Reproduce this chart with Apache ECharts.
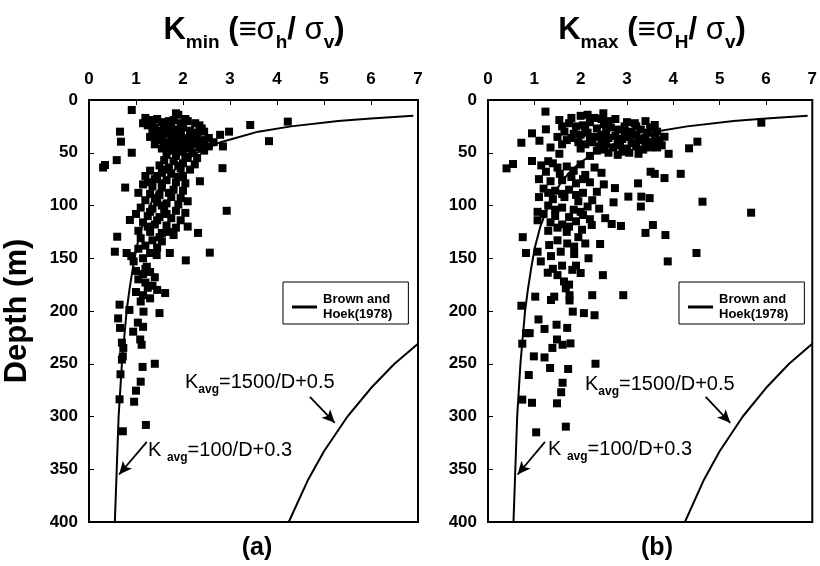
<!DOCTYPE html>
<html><head><meta charset="utf-8">
<script src="https://cdn.jsdelivr.net/npm/echarts@6/dist/echarts.min.js"></script>
<style>html,body{margin:0;padding:0;background:#fff}#c{width:820px;height:566px}</style>
</head><body><div id="c"></div>
<script>
const FONT = "'Liberation Sans', Arial, sans-serif";
const xRange = [0, 7];
const yRange = [0, 400];
const seriesName = 'Brown and Hoek(1978)';

// [K, depth]
const kminPoints = [
[0.91,9.5],[1.85,12.6],[1.9,14],[1.2,17],[1.3,19],[1.45,18],[1.55,21],[1.7,20],[1.95,22],[2.1,20],[2.26,22],[2.35,24],[1.25,24],[1.4,26],[1.6,27],[1.75,25],[1.85,28],[2.0,26],[2.15,29],[2.3,31],[2.45,30],[1.35,31],[1.5,33],[1.65,32],[1.8,34],[1.95,33],[2.1,36],[2.25,35],[2.4,38],[2.55,36],[1.45,38],[1.6,40],[1.75,39],[1.9,41],[2.05,43],[2.2,42],[2.35,45],[2.55,44],[2.65,40],[1.55,46],[1.7,48],[1.85,47],[2.0,49],[2.2,50],[2.45,48],
[1.15,22],[1.35,21],[1.6,23],[1.8,19],[2.05,18],[1.5,29],[1.7,30],[1.95,30],[2.2,33],[2.4,27],[1.3,35],[1.55,36],[1.85,37],[2.0,38],[2.3,40],[1.4,42],[1.65,44],[1.95,45],[2.15,46],[2.45,41],[1.8,44],
[0.66,30],[0.68,39.5],[0.91,50],[0.34,61.6],[0.59,57],[0.3,64],[3.43,23.7],[2.98,30],[2.79,33],[3.83,39],[2.85,44],[4.23,20.5],[2.84,64.6],[2.36,77],[2.93,105],[2.32,126],[0.87,113.7],[0.6,129.6],[0.77,83],
[1.65,52],[1.85,53],[2.05,54],[2.3,55],[1.6,57],[1.8,58],[2.0,60],[2.25,61],[1.5,62],[1.7,64],[1.95,65],[2.15,66],[1.3,67],[1.55,69],[1.75,70],[2.0,72],[1.2,72],[1.4,75],[1.65,76],[1.85,78],[2.05,79],[1.15,80],[1.35,82],[1.55,83],[1.8,85],[2.0,86],[1.05,88],[1.3,89],[1.5,90],[1.75,92],[1.95,93],[1.2,95],[1.45,97],[1.65,98],[1.9,99],[2.1,96],
[2.1,55],[1.9,62],[1.6,66],[1.45,72],[1.9,73],[1.25,78],[1.55,79],[1.7,88],[1.4,93],
[1.1,102],[1.35,103],[1.6,104],[1.85,105],[2.05,107],[1.0,108],[1.25,110],[1.5,111],[1.75,112],[1.95,114],[1.15,116],[1.4,118],[1.65,119],[1.85,121],[2.1,120],[1.05,124],[1.3,125],[1.55,126],[1.68,125],[1.8,128],[1.1,131],[1.35,133],[1.55,134],[1.2,138],[1.45,140],[1.05,141],
[1.55,100],[1.3,106],[1.65,108],[1.45,114],[1.25,120],[1.5,130],
[0.55,143.8],[0.8,145],[0.9,148],[0.95,153],[1.72,145],[2.57,144.7],[2.06,152],[1.44,147],[1.23,158],[1.0,162],[1.15,165],[1.3,163],[1.4,168],[1.05,170],[1.2,173],[1.35,176],[1.45,180],[1.0,182],[1.15,185],[1.3,188],[1.1,191],[1.62,183],[0.65,194],[0.86,199],[1.16,200.6],[1.5,202],[0.62,207],[0.66,216],[1.04,211],[1.15,215],[0.94,219.6],[1.09,227],[1.12,232],[0.7,230],[0.73,235],[0.72,243],[1.14,253],[1.4,250],[0.67,260],[0.7,246],[1.1,267],[1.0,275.5],[0.65,283.7],[0.96,286],[1.21,308],[0.72,314],
[1.3,145],[1.15,150],[1.25,178],[1.2,160]
];

const kmaxPoints = [
[1.24,11],[1.54,19],[2.49,12.6],[1.25,27.8],[0.95,31.6],[0.72,40.5],[1.11,38.6],[0.4,64.8],[0.54,60.7],[0.95,57.8],[1.54,51],[3.17,22],[3.6,23.7],[3.81,34.8],[5.9,21.5],[4.52,39.5],[4.34,45.8],[3.9,51],
[1.75,22],[1.9,25],[2.05,24],[2.2,21],[2.35,27],[2.5,23],[2.65,26],[2.8,28],[2.95,25],[3.1,30],[3.3,28],[3.45,31],[3.65,30],[1.65,30],[1.85,32],[2.0,33],[2.15,31],[2.3,35],[2.45,33],[2.6,36],[2.75,34],[2.9,37],[3.05,35],[3.25,38],[3.4,36],[3.55,40],[3.7,38],[1.7,38],[1.95,40],[2.1,42],[2.25,40],[2.4,44],[2.55,42],[2.7,45],[2.85,43],[3.0,46],[3.2,44],[3.35,47],[3.5,45],[3.75,43],[2.35,48],[2.6,50],[2.8,52],[2.2,53],[3.05,50],[1.35,45],[1.6,42],[2.0,15],[2.3,17],[2.75,18],[3.4,20],
[1.8,17],[2.15,14],[2.45,18],[2.6,20],[3.0,21],[3.2,25],[3.5,26],[1.6,25],[2.1,28],[2.55,29],[2.95,31],[3.2,33],[3.6,35],[1.8,36],[2.2,37],[2.45,39],[2.8,40],[3.1,41],[3.4,42],[3.65,45],[2.0,46],[2.5,47],[2.9,49],[3.25,51],[1.5,35],
[1.15,62],[1.4,60],[1.7,63],[2.0,61],[2.3,64],[1.25,68],[1.55,70],[1.85,67],[2.1,71],[2.45,69],[1.1,75],[1.35,77],[1.6,76],[1.9,79],[2.2,78],[2.5,80],[1.2,84],[1.45,86],[1.75,85],[2.05,88],[2.35,87],[1.1,92],[1.4,94],[1.65,92],[1.95,96],[2.25,95],[1.3,100],[1.6,102],[1.85,104],[2.15,101],[2.4,103],[1.2,108],[1.45,110],[1.75,111],[2.05,109],[1.35,116],[1.6,118],[1.9,115],[2.2,113],
[1.3,58],[1.5,64],[1.8,73],[2.05,75],[1.3,88],[1.6,89],[1.9,90],[1.45,104],[2.0,106],[1.7,125],[1.3,124],[1.95,130],[1.5,133],
[1.07,106],[1.07,114],[1.5,121],[1.75,120],[2.03,123],[2.24,118.5],[0.75,130],[2.87,119.4],[2.67,117.5],[2.53,112],[2.42,136.5],[1.32,137.5],[3.51,68],[3.81,74],[3.24,79],[2.74,83.5],[3.03,91.6],[3.31,91.6],[3.49,93],[2.71,97],[3.3,101],[3.4,126],[3.83,128],[3.6,70],[4.16,70],[4.63,96.4],[5.68,106.8],[3.56,118.5],[4.5,145],[3.88,153],
[2.1,136],[1.71,136],[1.86,139],[0.82,145],[1.07,143.8],[1.36,148],[1.57,143.8],[1.86,146],[2.17,150],[1.14,153],[1.29,163.7],[1.5,166],[1.64,172],[1.75,175],[1.68,178.5],[1.82,161],[2.0,164],[2.48,166],[2.92,185],[1.02,186.4],[1.36,189.6],[1.43,186.4],[1.76,185],[1.76,190],[2.25,185],[0.72,195],[1.83,200.6],[2.07,202],[2.3,204],[1.09,208],[1.22,217],[1.48,213],[1.71,216],[0.9,221],[0.82,221],[1.49,227],[1.61,232],[1.78,230.7],[1.39,235],[0.74,231],[0.99,243],[1.22,244],[1.34,254],[1.73,255],[2.32,250],[0.88,260.7],[1.61,268],[1.58,277],[0.74,284],[0.95,287],[1.49,287.5],[1.04,315],[1.68,309.6],[1.6,157],[1.9,157],[1.4,160]
];

// Brown & Hoek envelopes: [K, depth]
const innerCurve = [[6.9,15],[6.0,17.5],[5.3,20],[4.3,25],[3.6,30],[2.8,40],[2.3,50],[1.97,60],[1.73,70],[1.55,80],[1.41,90],[1.3,100],[1.13,120],[1.01,140],[0.93,160],[0.86,180],[0.8,200],[0.7,250],[0.63,300],[0.59,350],[0.55,400]];
const outerCurve = [[7.0,231],[6.5,250],[6.0,273],[5.5,300],[5.0,333],[4.65,361],[4.25,400]];

// annotation arrows [from, to] in [K, depth]
const arrowOuter = [[4.70,281.5],[5.23,306]];
const arrowInner = [[1.23,324],[0.64,355]];

const chart = echarts.init(document.getElementById('c'), null, {renderer:'canvas'});

const grids = [
  {left:89, top:100, width:329, height:422},
  {left:488, top:100, width:328, height:422}
];

function xAxis(i){
  return {gridIndex:i, type:'value', position:'top', min:xRange[0], max:xRange[1], interval:1,
    axisLine:{show:true, onZero:false, lineStyle:{color:'#000', width:2}},
    axisTick:{show:true, inside:true, length:5, lineStyle:{color:'#000', width:1}},
    axisLabel:{color:'#000', fontWeight:'bold', fontSize:17, fontFamily:FONT, margin:12},
    splitLine:{show:false}};
}
function yAxis(i){
  const a = {gridIndex:i, type:'value', inverse:true, min:yRange[0], max:yRange[1], interval:50,
    axisLine:{show:true, onZero:false, lineStyle:{color:'#000', width:2}},
    axisTick:{show:true, inside:true, length:5, lineStyle:{color:'#000', width:1}},
    axisLabel:{color:'#000', fontWeight:'bold', fontSize:17, fontFamily:FONT, margin:11},
    splitLine:{show:false}};
  if(i===0){
    a.name = 'Depth (m)'; a.nameLocation='middle'; a.nameRotate=90; a.nameGap=56;
    a.nameTextStyle = {color:'#000', fontWeight:'bold', fontSize:31, fontFamily:FONT};
  }
  return a;
}

function arrowMark(){
  return {silent:true, symbol:['none','arrow'], symbolSize:[9,13], label:{show:false},
    lineStyle:{color:'#000', width:1.8, type:'solid'}, animation:false,
    data:[
      [{coord:arrowOuter[0]},{coord:arrowOuter[1]}],
      [{coord:arrowInner[0]},{coord:arrowInner[1]}]
    ]};
}

const series = [];
[kminPoints, kmaxPoints].forEach((pts,i)=>{
  series.push({type:'scatter', xAxisIndex:i, yAxisIndex:i, data:pts, symbol:'rect', symbolSize:8,
    itemStyle:{color:'#000', opacity:1}, z:3, silent:true});
  series.push({type:'line', name:seriesName, xAxisIndex:i, yAxisIndex:i, data:innerCurve, showSymbol:false,
    lineStyle:{color:'#000', width:2}, itemStyle:{color:'#000'}, markLine:arrowMark(), z:4});
  series.push({type:'line', name:seriesName, xAxisIndex:i, yAxisIndex:i, data:outerCurve, showSymbol:false,
    lineStyle:{color:'#000', width:2}, itemStyle:{color:'#000'}, z:4});
});

function legend(left){
  return {left:left, top:282, orient:'vertical', data:[seriesName], icon:'rect', itemWidth:25, itemHeight:3, itemGap:0,
    formatter:()=> 'Brown and\nHoek(1978)', borderColor:'#000', borderWidth:1, padding:[10,16,2,9], selectedMode:false,
    textStyle:{color:'#000', fontWeight:'bold', fontSize:13, lineHeight:15, fontFamily:FONT, padding:[0,0,0,1]}};
}

function titleText(x, sub, sub2){
  return {type:'text', x:x, y:15, style:{
    text:'{k|K}{s|'+sub+'}{p| (≡}{g|σ}{s|'+sub2+'}{p|/ }{g|σ}{s|v}{p|)}',
    align:'center', verticalAlign:'top',
    rich:{
      k:{fontSize:31, fontWeight:'bold', fontFamily:FONT, fill:'#000', lineHeight:34, verticalAlign:'top'},
      p:{fontSize:31, fontWeight:'bold', fontFamily:FONT, fill:'#000', lineHeight:34, verticalAlign:'top'},
      g:{fontSize:31, fontWeight:'normal', fontFamily:FONT, fill:'#000', lineHeight:34, verticalAlign:'top'},
      s:{fontSize:19, fontWeight:'bold', fontFamily:FONT, fill:'#000', lineHeight:20, padding:[18,0,0,0], verticalAlign:'top'}
    }}};
}
function annot(x, y, pre, rest){
  return {type:'text', x:x, y:y, style:{
    text:'{k|'+pre+'}{s|avg}{k|'+rest+'}', align:'left', verticalAlign:'top',
    rich:{
      k:{fontSize:20, fontFamily:FONT, fill:'#000', lineHeight:22, verticalAlign:'top'},
      s:{fontSize:12, fontWeight:'bold', fontFamily:FONT, fill:'#000', lineHeight:14, padding:[12,0,0,0], verticalAlign:'top'}
    }}};
}
function panelLabel(x, t){
  return {type:'text', x:x, y:548, style:{text:t, font:'bold 25px '+FONT, fill:'#000', align:'center', verticalAlign:'middle'}};
}

chart.setOption({
  animation:false,
  backgroundColor:'#fff',
  grid: grids.map(g=>Object.assign({show:true, borderColor:'#000', borderWidth:2, backgroundColor:'transparent'}, g)),
  xAxis:[xAxis(0), xAxis(1)],
  yAxis:[yAxis(0), yAxis(1)],
  legend:[legend(283), legend(679)],
  series:series,
  graphic:[
    titleText(254, 'min', 'h'),
    titleText(652, 'max', 'H'),
    annot(185, 372, 'K', '=1500/D+0.5'),
    annot(148, 440, 'K ', '=100/D+0.3'),
    annot(585, 374, 'K', '=1500/D+0.5'),
    annot(548, 439, 'K ', '=100/D+0.3'),
    panelLabel(257, '(a)'),
    panelLabel(657, '(b)')
  ]
});
</script></body></html>
